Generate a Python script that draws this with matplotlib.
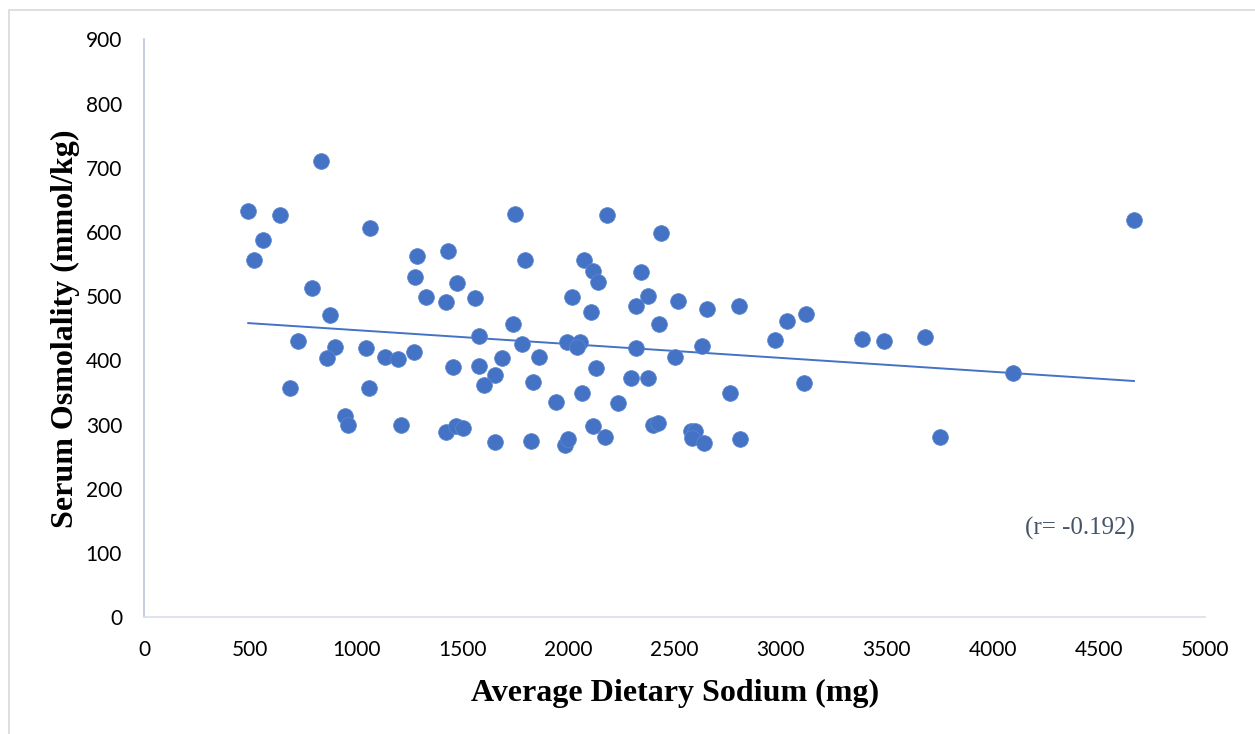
import numpy as np
import matplotlib
matplotlib.use("Agg")
import matplotlib.pyplot as plt
from matplotlib.patches import Rectangle

# Average dietary sodium (mg)
sodium = [
    490, 834, 639, 561, 518, 1064, 792, 877, 726, 899, 862, 1044, 1134, 1198,
    687, 1060, 946, 959, 1209,
    1272, 1284, 1275, 1430, 1476, 1330, 1424, 1559, 1746, 1796, 1577, 1740,
    1779, 1688, 1861, 1455, 1577, 1653, 1602, 1834, 1943,
    2179, 2435, 2072, 2114, 2139, 2343, 2015, 2104, 2320, 2376, 2516, 2654,
    2802, 2425, 3029, 3121, 2975, 1994, 2056, 2039, 2320, 2629, 2504, 2130,
    2295, 2373, 2062, 2235, 2763, 3109,
    1421, 1471, 1504, 1653, 1822, 1983, 1996, 2117, 2174, 2398, 2420, 2578,
    2596, 2581, 2639, 2809,
    3382, 3485, 3681, 4097, 3753, 4665,
]
# Serum osmolality (mmol/kg)
osmolality = [
    633, 710, 627, 588, 556, 606, 513, 470, 430, 421, 404, 419, 405, 402,
    357, 357, 314, 300, 300,
    413, 563, 530, 570, 521, 498, 491, 497, 628, 557, 438, 457,
    426, 403, 406, 390, 391, 378, 362, 366, 336,
    627, 599, 557, 539, 522, 537, 499, 475, 484, 500, 492, 480,
    485, 456, 461, 473, 432, 429, 429, 421, 420, 422, 405, 388,
    373, 373, 350, 333, 349, 365,
    289, 298, 295, 273, 275, 269, 277, 298, 280, 299, 302, 290,
    290, 279, 271, 277,
    434, 430, 436, 381, 281, 618,
]
x_ticks = [0, 500, 1000, 1500, 2000, 2500, 3000, 3500, 4000, 4500, 5000]
y_ticks = [0, 100, 200, 300, 400, 500, 600, 700, 800, 900]
annotation = "(r= -0.192)"

blue = "#4472C4"

fig = plt.figure(figsize=(12.55, 7.34), dpi=100)
ax = fig.add_axes([144.3 / 1255, 1 - 617.3 / 734, (1205 - 144.3) / 1255, (617.3 - 39.3) / 734])

# chart-area border
fig.patches.append(Rectangle((9 / 1255, -0.1), 1.2, 1 - 10 / 734 + 0.1,
                             transform=fig.transFigure, fill=False,
                             edgecolor="#D9D9D9", linewidth=1.2))

x = np.array(sodium, dtype=float)
y = np.array(osmolality, dtype=float)
ax.scatter(x, y, s=128, color=blue, edgecolors="#5B86D0", linewidths=0.6, zorder=3)

m, b = np.polyfit(x, y, 1)
xs = np.array([x.min(), x.max()])
ax.plot(xs, m * xs + b, color=blue, linewidth=1.4, zorder=2)

ax.set_xlim(0, 5000)
ax.set_ylim(0, 900)
ax.set_xticks(x_ticks)
ax.set_yticks(y_ticks)
ax.set_xticklabels([str(t) for t in x_ticks])
ax.set_yticklabels([str(t) for t in y_ticks])
ax.tick_params(length=0, labelsize=15, colors="black")
ax.tick_params(axis="x", pad=16)
ax.tick_params(axis="y", pad=16)
for lab in ax.get_xticklabels() + ax.get_yticklabels():
    lab.set_fontfamily("Lato")

for s in ["top", "right"]:
    ax.spines[s].set_visible(False)
ax.spines["left"].set_color("#BCC6D8")
ax.spines["left"].set_linewidth(1.2)
ax.spines["bottom"].set_color("#D9DEE8")
ax.spines["bottom"].set_linewidth(1.2)

ax.set_xlabel("Average Dietary Sodium (mg)", fontfamily="Liberation Serif",
              fontweight="bold", fontsize=23, labelpad=14)
ax.set_ylabel("Serum Osmolality (mmol/kg)", fontfamily="Liberation Serif",
              fontweight="bold", fontsize=23, labelpad=4)

ax.text(4412, 139, annotation, fontfamily="Liberation Serif", fontsize=18,
        color="#44546A", ha="center", va="center")

fig.savefig("out.png", dpi=100)
